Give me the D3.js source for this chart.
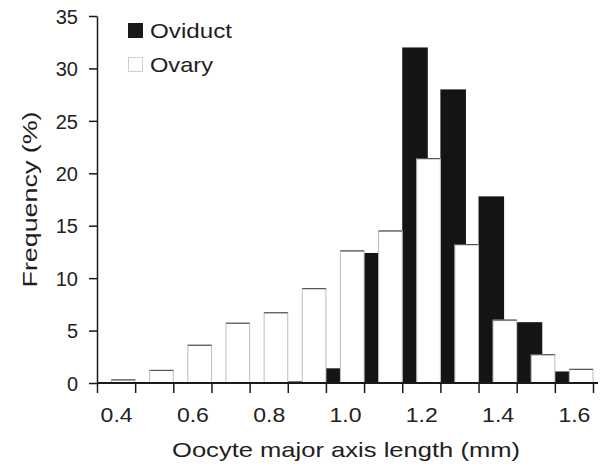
<!DOCTYPE html>
<html><head><meta charset="utf-8">
<script src="https://cdn.jsdelivr.net/npm/d3@7/dist/d3.min.js"></script>
<style>
html,body{margin:0;padding:0;background:#fff;}
text{font-family:"Liberation Sans",Arial,sans-serif;fill:#1e1e1e;}
</style></head>
<body><svg id="c" width="600" height="467"></svg>
<script>
// ---- data ----
const binCenters = [0.4, 0.5, 0.6, 0.7, 0.8, 0.9, 1.0, 1.1, 1.2, 1.3, 1.4, 1.5, 1.6];
const oviduct = [0, 0, 0, 0, 0, 0.15, 1.4, 12.4, 32.0, 28.0, 17.8, 5.8, 1.1];
const ovary   = [0.3, 1.2, 3.6, 5.7, 6.7, 9.0, 12.6, 14.5, 21.4, 13.2, 6.0, 2.7, 1.3];
const xTickLabels = [0.4, 0.6, 0.8, 1.0, 1.2, 1.4, 1.6];
const yTicks = [0, 5, 10, 15, 20, 25, 30, 35];
const seriesNames = ["Oviduct", "Ovary"];
const xTitle = "Oocyte major axis length (mm)";
const yTitle = "Frequency (%)";

const svg = d3.select("#c");
const binW = 0.1;
const x = d3.scaleLinear().domain([0.35, 1.65]).range([97, 593]);
const y = d3.scaleLinear().domain([0, 35]).range([383, 16]);

const binEdges = binCenters.map(c => c - binW / 2).concat([binCenters[binCenters.length - 1] + binW / 2]);

// black (oviduct) bars: left part of bin
const blackL = 0.0, blackR = 0.67;
const whiteL = 0.38, whiteR = 1.0;

svg.append("g").selectAll("rect").data(binCenters.map((c, i) => ({c, v: oviduct[i]})).filter(d => d.v > 0))
  .join("rect")
  .attr("x", d => x(d.c - binW / 2 + blackL * binW))
  .attr("width", d => x(d.c - binW / 2 + blackR * binW) - x(d.c - binW / 2 + blackL * binW))
  .attr("y", d => y(d.v))
  .attr("height", d => y(0) - y(d.v))
  .attr("fill", "#141414");

const wg = svg.append("g");
const wdata = binCenters.map((c, i) => ({c, v: ovary[i]}));
wg.selectAll("rect").data(wdata).join("rect")
  .attr("x", d => x(d.c - binW / 2 + whiteL * binW))
  .attr("width", d => x(d.c - binW / 2 + whiteR * binW) - x(d.c - binW / 2 + whiteL * binW))
  .attr("y", d => y(d.v))
  .attr("height", d => y(0) - y(d.v))
  .attr("fill", "#fff")
  .attr("stroke", "#bdbdbd")
  .attr("stroke-width", 1);
wg.selectAll("line").data(wdata).join("line")
  .attr("x1", d => x(d.c - binW / 2 + whiteL * binW))
  .attr("x2", d => x(d.c - binW / 2 + whiteR * binW))
  .attr("y1", d => y(d.v))
  .attr("y2", d => y(d.v))
  .attr("stroke", "#555")
  .attr("stroke-width", 1.2);

// x axis: tick marks at bin edges
const xAxisMarks = svg.append("g").attr("transform", `translate(0,${y(0)})`)
  .call(d3.axisBottom(x).tickValues(binEdges).tickFormat("").tickSize(10).tickSizeOuter(0));
xAxisMarks.select(".domain").attr("stroke", "#1a1a1a").attr("stroke-width", 2)
  .attr("d", `M${x(0.35)},0H598`);
xAxisMarks.selectAll(".tick line").attr("stroke", "#1a1a1a").attr("stroke-width", 1.5);

// x axis labels at bin centres
const xAxisLabels = svg.append("g").attr("transform", `translate(0,${y(0)})`)
  .call(d3.axisBottom(x).tickValues(xTickLabels).tickFormat(d3.format(".1f")).tickSize(0));
xAxisLabels.select(".domain").remove();
xAxisLabels.selectAll("text")
  .attr("y", 39).attr("dy", 0)
  .attr("font-size", 19.5)
  .attr("textLength", 32).attr("lengthAdjust", "spacingAndGlyphs")
  .style("fill", "#222");

// y axis
const yAxis = svg.append("g").attr("transform", `translate(${x(0.35)},0)`)
  .call(d3.axisLeft(y).tickValues(yTicks).tickSize(8).tickSizeOuter(0).tickPadding(11));
yAxis.select(".domain").attr("stroke", "#1a1a1a").attr("stroke-width", 1.5);
yAxis.selectAll(".tick line").attr("stroke", "#1a1a1a").attr("stroke-width", 1.5);
yAxis.selectAll("text").attr("font-size", 20).attr("dy", "0.36em").style("fill", "#222");

// axis titles
svg.append("text")
  .attr("x", 346).attr("y", 457)
  .attr("text-anchor", "middle")
  .attr("font-size", 21)
  .attr("textLength", 348).attr("lengthAdjust", "spacingAndGlyphs")
  .text(xTitle);

svg.append("text")
  .attr("transform", `translate(37,${(y(0) + y(35)) / 2}) rotate(-90)`)
  .attr("text-anchor", "middle")
  .attr("font-size", 20)
  .attr("textLength", 176).attr("lengthAdjust", "spacingAndGlyphs")
  .text(yTitle);

// legend
const legend = svg.append("g");
const legItems = [
  {name: seriesNames[0], fill: "#1a1a1a", stroke: "#1a1a1a", y: 23, w: 82},
  {name: seriesNames[1], fill: "#fff", stroke: "#cfcfcf", y: 57, w: 63}
];
legItems.forEach(it => {
  legend.append("rect").attr("x", 128.5).attr("y", it.y + 0.5).attr("width", 14).attr("height", 14)
    .attr("fill", it.fill).attr("stroke", it.stroke).attr("stroke-width", 1);
  legend.append("text").attr("x", 150).attr("y", it.y + 14.5)
    .attr("font-size", 21)
    .attr("textLength", it.w).attr("lengthAdjust", "spacingAndGlyphs")
    .text(it.name);
});
</script></body></html>
